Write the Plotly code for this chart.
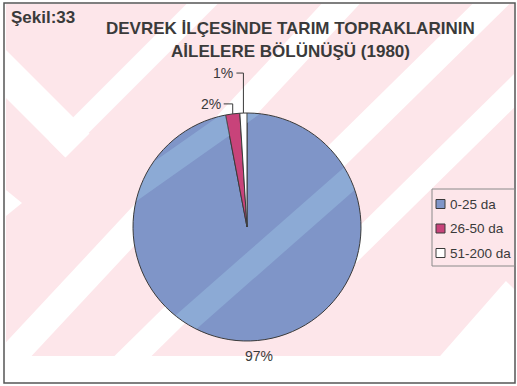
import math
import plotly.graph_objects as go

# --- data -------------------------------------------------------------
categories = ["0-25 da", "26-50 da", "51-200 da"]
shares = [97, 2, 1]
slice_colors = ["#7f95c8", "#c8437a", "#ffffff"]
title_lines = ["DEVREK İLÇESİNDE TARIM TOPRAKLARININ", "AİLELERE BÖLÜNÜŞÜ (1980)"]
figure_tag = "Şekil:33"

# --- canvas helpers (pixel -> paper) ------------------------------------
W, H = 517, 386


def px(x):
    return x / W


def py(y):
    return 1 - y / H


CX, CY, R = 247, 227, 114          # pie centre and radius in pixels
INK = "#3a3a3a"
FONT = "Liberation Sans, Arial, sans-serif"

fig = go.Figure(
    go.Pie(
        labels=categories,
        values=shares,
        sort=False,
        direction="clockwise",
        rotation=0,
        marker=dict(colors=slice_colors, line=dict(color=INK, width=1)),
        textinfo="none",
        hoverinfo="label+percent",
        showlegend=False,
        domain=dict(x=[px(CX - R), px(CX + R)], y=[py(CY + R), py(CY - R)]),
    )
)

shapes = []
annotations = []


# --- polygon helpers for the background pattern ---------------------------
def clip_half(pts, a, b, c):
    """Keep the part of a polygon where a*x + b*y <= c."""
    out = []
    f = lambda p: a * p[0] + b * p[1] - c
    for i in range(len(pts)):
        cur, prev = pts[i], pts[i - 1]
        fc, fp = f(cur), f(prev)
        if fc <= 0:
            if fp > 0:
                t = fp / (fp - fc)
                out.append((prev[0] + t * (cur[0] - prev[0]), prev[1] + t * (cur[1] - prev[1])))
            out.append(cur)
        elif fp <= 0:
            t = fp / (fp - fc)
            out.append((prev[0] + t * (cur[0] - prev[0]), prev[1] + t * (cur[1] - prev[1])))
    return out


def clip_convex(pts, convex):
    """Clip any polygon by a convex polygon."""
    mx = sum(v[0] for v in convex) / len(convex)
    my = sum(v[1] for v in convex) / len(convex)
    for i in range(len(convex)):
        if not pts:
            break
        p, q = convex[i], convex[(i + 1) % len(convex)]
        a, b = q[1] - p[1], -(q[0] - p[0])
        c = a * p[0] + b * p[1]
        if a * mx + b * my > c:
            a, b, c = -a, -b, -c
        pts = clip_half(pts, a, b, c)
    return pts


def band(p1, p2, half):
    """Long parallelogram of given half-width around the line p1-p2."""
    dx, dy = p2[0] - p1[0], p2[1] - p1[1]
    n = math.hypot(dx, dy)
    ux, uy = dx / n, dy / n
    nx, ny = -uy * half, ux * half
    L = 2000
    a = (p1[0] - ux * L, p1[1] - uy * L)
    b = (p1[0] + ux * L, p1[1] + uy * L)
    return [(a[0] + nx, a[1] + ny), (b[0] + nx, b[1] + ny), (b[0] - nx, b[1] - ny), (a[0] - nx, a[1] - ny)]


def in_box(pts, x0, y0, x1, y1):
    return clip_convex(pts, [(x0, y0), (x1, y0), (x1, y1), (x0, y1)])


def poly_path(pts):
    return "M " + " L ".join(f"{px(x):.5f},{py(y):.5f}" for x, y in pts) + " Z"


def add_poly(pts, fill, layer="below"):
    if len(pts) >= 3:
        shapes.append(dict(type="path", xref="paper", yref="paper", layer=layer,
                           path=poly_path(pts), fillcolor=fill, line=dict(width=0)))


PINK = "#fde6ea"
BOX = (6, 4, 514, 356)
shapes.append(dict(type="rect", xref="paper", yref="paper", layer="below",
                   x0=px(BOX[0]), x1=px(BOX[2]), y0=py(BOX[3]), y1=py(BOX[1]),
                   fillcolor=PINK, line=dict(width=0)))

# rising stripes crossing the panel
add_poly(in_box(band((18, 350), (265, 85), 14), *BOX), "white")
add_poly(in_box(band((133, 356), (495, 0), 13), *BOX), "white")
stripe_d = clip_half(band((400, 203), (517, 88), 12), -1, 0, -350)
add_poly(in_box(stripe_d, *BOX), "white")

# falling arm of the chevron on the left, squared off at its tip
arm = clip_half(band((0, 68), (100, 168), 17), 1, 1, 223)
add_poly(in_box(arm, *BOX), "white")
# rising arm of the same chevron
arm2 = clip_half(band((0, 206), (206, 0), 11), -1, 1, 92)
add_poly(in_box(arm2, *BOX), "white")
# small tip at the left edge
add_poly(in_box([(0, 185), (22, 203), (0, 221)], *BOX), "white")
# lower-right wedge
wedge = clip_half([(752, 0), (1500, 0), (1500, 2000), (-1000, 2000)], 1, -1, 225)
add_poly(in_box(wedge, *BOX), "white")

# pale stripes showing through the large slice
end = 2 * math.pi * shares[0] / sum(shares)
sector = [(CX, CY)] + [(CX + (R - 0.6) * math.sin(end * k / 160),
                        CY - (R - 0.6) * math.cos(end * k / 160)) for k in range(161)]
for p1, p2, half in [((133, 190), (228, 123), 11), ((177, 330), (357, 172), 12)]:
    add_poly(clip_convex(sector, band(p1, p2, half)), "rgba(165,210,238,0.35)", layer="above")

# --- outer frame ----------------------------------------------------------
shapes.append(dict(type="rect", xref="paper", yref="paper", layer="above",
                   x0=px(4), x1=px(515), y0=py(383), y1=py(3),
                   line=dict(color="#555555", width=1.5)))

# --- slice labels with leader lines -----------------------------------------
total = sum(shares)
leaders = [None, (10, 9), (40, 7)]   # (rise, run) in pixels for thin slices
cum = 0
for value, leader in zip(shares, leaders):
    mid = 2 * math.pi * (cum + value / 2) / total
    cum += value
    label = f"{round(100 * value / total)}%"
    ex, ey = CX + R * math.sin(mid), CY - R * math.cos(mid)
    if leader is None:
        lx, ly = CX + (R + 16) * math.sin(mid), CY - (R + 16) * math.cos(mid)
        annotations.append(dict(x=px(lx), y=py(ly), xref="paper", yref="paper", text=label,
                                showarrow=False, xanchor="center", yanchor="middle",
                                font=dict(family=FONT, size=14, color=INK)))
    else:
        rise, run = leader
        top = ey - rise
        shapes.append(dict(type="path", xref="paper", yref="paper", layer="above",
                           path=f"M {px(ex):.5f},{py(ey):.5f} L {px(ex):.5f},{py(top):.5f} "
                                f"L {px(ex - run):.5f},{py(top):.5f}",
                           line=dict(color=INK, width=1)))
        annotations.append(dict(x=px(ex - run - 1), y=py(top), xref="paper", yref="paper",
                                text=label, showarrow=False, xanchor="right", yanchor="middle",
                                font=dict(family=FONT, size=14, color=INK)))

# --- titles -------------------------------------------------------------------
annotations.append(dict(x=px(9), y=py(17), xref="paper", yref="paper", text=f"<b>{figure_tag}</b>",
                        showarrow=False, xanchor="left", yanchor="middle",
                        font=dict(family=FONT, size=17, color=INK)))
for text, yc in zip(title_lines, [28, 51]):
    annotations.append(dict(x=px(290.5), y=py(yc), xref="paper", yref="paper", text=f"<b>{text}</b>",
                            showarrow=False, xanchor="center", yanchor="middle",
                            font=dict(family=FONT, size=17, color=INK)))

# --- legend -------------------------------------------------------------------
shapes.append(dict(type="rect", xref="paper", yref="paper", layer="above",
                   x0=px(432), x1=px(515), y0=py(266), y1=py(189),
                   line=dict(color="#8a8a8a", width=1)))
for i, (name, color) in enumerate(zip(categories, slice_colors)):
    yc = 204 + 24.5 * i
    shapes.append(dict(type="rect", xref="paper", yref="paper", layer="above",
                       x0=px(436), x1=px(445), y0=py(yc + 4.5), y1=py(yc - 4.5),
                       fillcolor=color, line=dict(color=INK, width=1)))
    annotations.append(dict(x=px(448), y=py(yc), xref="paper", yref="paper", text=name,
                            showarrow=False, xanchor="left", yanchor="middle",
                            font=dict(family=FONT, size=13.5, color=INK)))

fig.update_layout(
    width=W, height=H,
    margin=dict(l=0, r=0, t=0, b=0),
    paper_bgcolor="white",
    plot_bgcolor="white",
    shapes=shapes,
    annotations=annotations,
    showlegend=False,
)

fig.write_html("out.html")
